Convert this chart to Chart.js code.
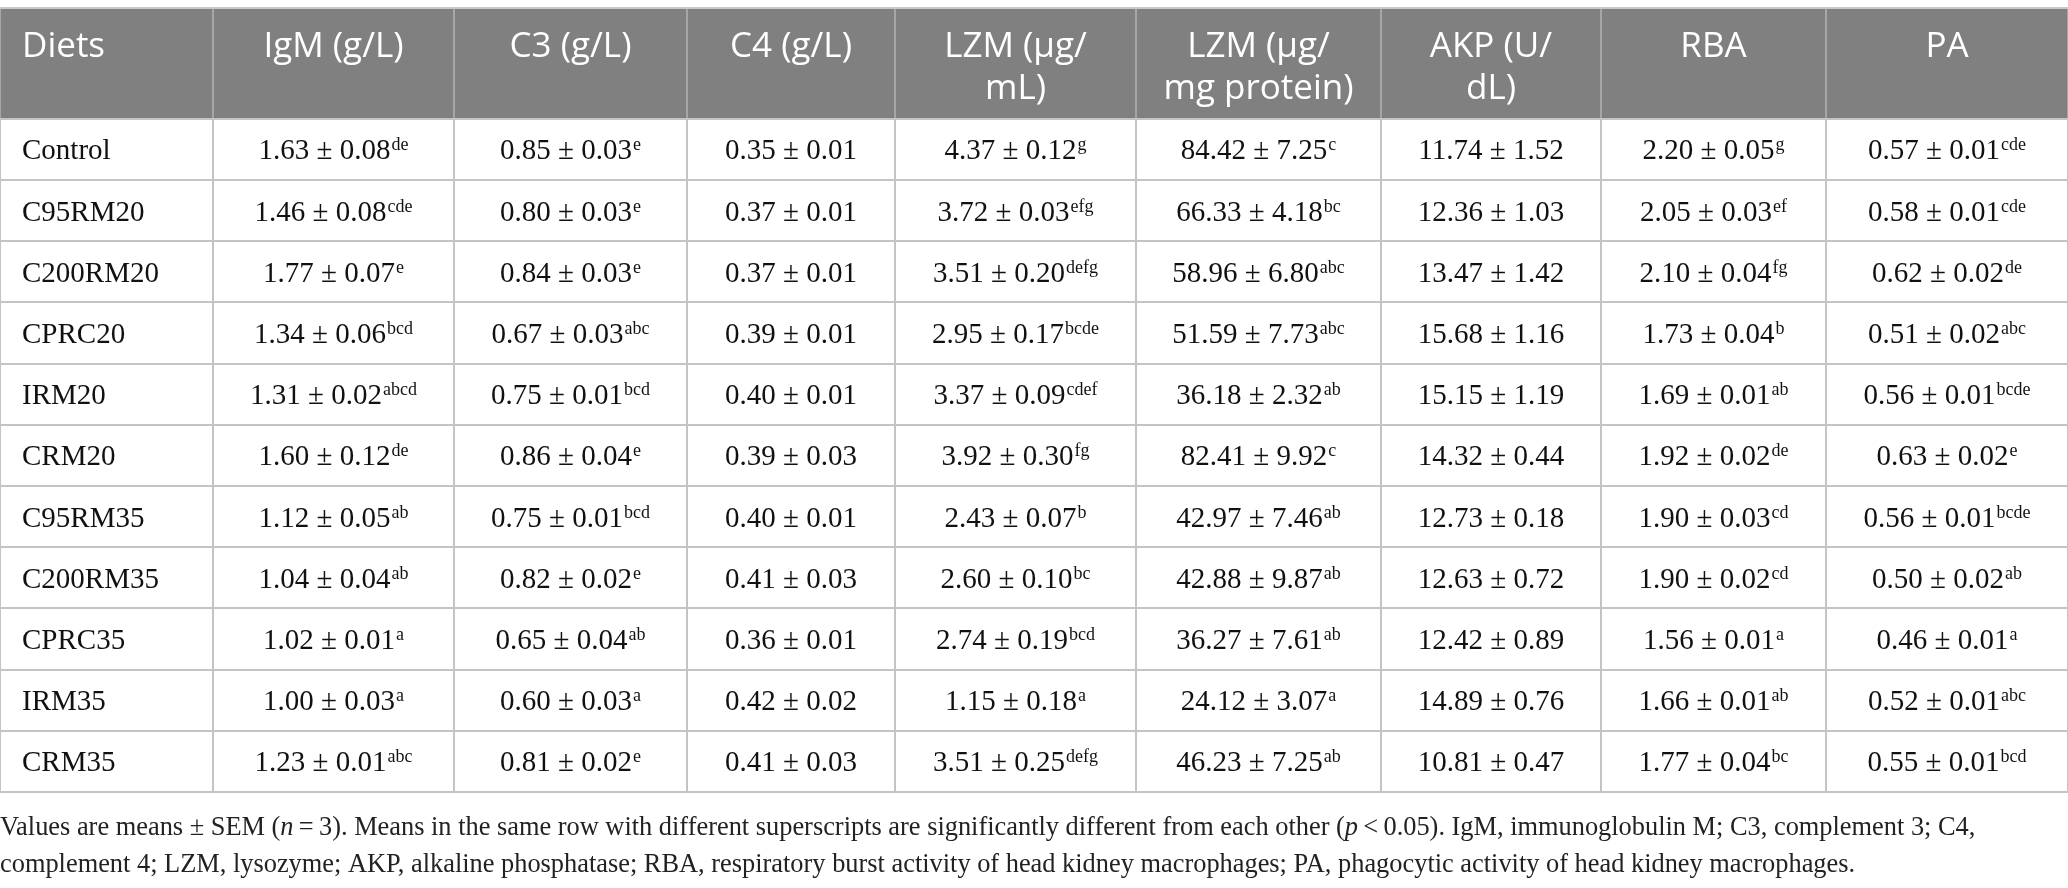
<!DOCTYPE html>
<html>
<head>
<meta charset="utf-8">
<title>Immune parameters by diet</title>
<script src="https://cdn.jsdelivr.net/npm/chart.js@4.4.1/dist/chart.umd.min.js"></script>
<style>
  html, body { margin: 0; padding: 0; background: #ffffff; }
  #wrap { width: 2068px; height: 888px; }
</style>
</head>
<body>
<div id="wrap"><canvas id="tbl" width="2068" height="888"></canvas></div>
<script>
const DIETS = ['Control', 'C95RM20', 'C200RM20', 'CPRC20', 'IRM20', 'CRM20',
  'C95RM35', 'C200RM35', 'CPRC35', 'IRM35', 'CRM35'];

// header labels, one entry per column (lines split where the original wraps)
const HEADERS = [['Diets'], ['IgM (g/L)'], ['C3 (g/L)'], ['C4 (g/L)'], ['LZM (\u03bcg/', 'mL)'],
  ['LZM (\u03bcg/', 'mg protein)'], ['AKP (U/', 'dL)'], ['RBA'], ['PA']];

const IGM_MEAN = [1.63, 1.46, 1.77, 1.34, 1.31, 1.60, 1.12, 1.04, 1.02, 1.00, 1.23];
const IGM_SEM  = [0.08, 0.08, 0.07, 0.06, 0.02, 0.12, 0.05, 0.04, 0.01, 0.03, 0.01];
const IGM_SUP  = ['de', 'cde', 'e', 'bcd', 'abcd', 'de', 'ab', 'ab', 'a', 'a', 'abc'];

const C3_MEAN = [0.85, 0.80, 0.84, 0.67, 0.75, 0.86, 0.75, 0.82, 0.65, 0.60, 0.81];
const C3_SEM  = [0.03, 0.03, 0.03, 0.03, 0.01, 0.04, 0.01, 0.02, 0.04, 0.03, 0.02];
const C3_SUP  = ['e', 'e', 'e', 'abc', 'bcd', 'e', 'bcd', 'e', 'ab', 'a', 'e'];

const C4_MEAN = [0.35, 0.37, 0.37, 0.39, 0.40, 0.39, 0.40, 0.41, 0.36, 0.42, 0.41];
const C4_SEM  = [0.01, 0.01, 0.01, 0.01, 0.01, 0.03, 0.01, 0.03, 0.01, 0.02, 0.03];
const C4_SUP  = ['', '', '', '', '', '', '', '', '', '', ''];

const LZM_ML_MEAN = [4.37, 3.72, 3.51, 2.95, 3.37, 3.92, 2.43, 2.60, 2.74, 1.15, 3.51];
const LZM_ML_SEM  = [0.12, 0.03, 0.20, 0.17, 0.09, 0.30, 0.07, 0.10, 0.19, 0.18, 0.25];
const LZM_ML_SUP  = ['g', 'efg', 'defg', 'bcde', 'cdef', 'fg', 'b', 'bc', 'bcd', 'a', 'defg'];

const LZM_MG_MEAN = [84.42, 66.33, 58.96, 51.59, 36.18, 82.41, 42.97, 42.88, 36.27, 24.12, 46.23];
const LZM_MG_SEM  = [7.25, 4.18, 6.80, 7.73, 2.32, 9.92, 7.46, 9.87, 7.61, 3.07, 7.25];
const LZM_MG_SUP  = ['c', 'bc', 'abc', 'abc', 'ab', 'c', 'ab', 'ab', 'ab', 'a', 'ab'];

const AKP_MEAN = [11.74, 12.36, 13.47, 15.68, 15.15, 14.32, 12.73, 12.63, 12.42, 14.89, 10.81];
const AKP_SEM  = [1.52, 1.03, 1.42, 1.16, 1.19, 0.44, 0.18, 0.72, 0.89, 0.76, 0.47];
const AKP_SUP  = ['', '', '', '', '', '', '', '', '', '', ''];

const RBA_MEAN = [2.20, 2.05, 2.10, 1.73, 1.69, 1.92, 1.90, 1.90, 1.56, 1.66, 1.77];
const RBA_SEM  = [0.05, 0.03, 0.04, 0.04, 0.01, 0.02, 0.03, 0.02, 0.01, 0.01, 0.04];
const RBA_SUP  = ['g', 'ef', 'fg', 'b', 'ab', 'de', 'cd', 'cd', 'a', 'ab', 'bc'];

const PA_MEAN = [0.57, 0.58, 0.62, 0.51, 0.56, 0.63, 0.56, 0.50, 0.46, 0.52, 0.55];
const PA_SEM  = [0.01, 0.01, 0.02, 0.02, 0.01, 0.02, 0.01, 0.02, 0.01, 0.01, 0.01];
const PA_SUP  = ['cde', 'cde', 'de', 'abc', 'bcde', 'e', 'bcde', 'ab', 'a', 'abc', 'bcd'];

// footnote runs (i = italic)
const FOOTNOTE = [
  [{ t: 'Values are means \u00b1 SEM (' }, { t: 'n', i: true }, { t: '\u2009=\u20093). Means in the same row with different superscripts are significantly different from each other (' },
   { t: 'p', i: true }, { t: '\u2009<\u20090.05). IgM, immunoglobulin M; C3, complement 3; C4,' }],
  [{ t: 'complement 4; LZM, lysozyme; AKP, alkaline phosphatase; RBA, respiratory burst activity of head kidney macrophages; PA, phagocytic activity of head kidney macrophages.' }]
];

// ---- layout (pixel units of the page) ----
const COL_EDGES = [0, 213, 454, 687, 895, 1136, 1381, 1601, 1826, 2068];
const TABLE_TOP = 8;
const HEAD_BOTTOM = 118.7;
const TABLE_BOTTOM = 792;
const HEAD_BG = '#808080';
const HEAD_RULE = '#a6a6a6';
const RULE = '#c4c4c4';
const BODY_FONT = '"Liberation Serif", "DejaVu Serif", serif';
const HEAD_FONT = '"Open Sans", "Noto Sans", sans-serif';

const COLUMNS = [
  [IGM_MEAN, IGM_SEM, IGM_SUP],
  [C3_MEAN, C3_SEM, C3_SUP],
  [C4_MEAN, C4_SEM, C4_SUP],
  [LZM_ML_MEAN, LZM_ML_SEM, LZM_ML_SUP],
  [LZM_MG_MEAN, LZM_MG_SEM, LZM_MG_SUP],
  [AKP_MEAN, AKP_SEM, AKP_SUP],
  [RBA_MEAN, RBA_SEM, RBA_SUP],
  [PA_MEAN, PA_SEM, PA_SUP]
];

const colMid = c => (COL_EDGES[c] + COL_EDGES[c + 1]) / 2;

// one invisible scatter series per column; the plugin writes the cell text at each point
const datasets = [{
  label: 'Diets',
  data: DIETS.map(d => ({ x: COL_EDGES[0], y: d, txt: d, sup: '' })),
  align: 'left'
}].concat(COLUMNS.map((col, c) => ({
  label: HEADERS[c + 1].join(' '),
  data: DIETS.map((d, i) => ({
    x: colMid(c + 1),
    y: d,
    txt: col[0][i].toFixed(2) + ' \u00b1 ' + col[1][i].toFixed(2),
    sup: col[2][i]
  })),
  align: 'center'
}))).map(ds => Object.assign(ds, { pointRadius: 0, pointHoverRadius: 0, showLine: false }));

// header band + footnote (drawn before the grid so rules sit on top)
const headerPlugin = {
  id: 'header',
  beforeDraw(chart) {
    const { ctx, scales: { x } } = chart;
    const left = x.getPixelForValue(COL_EDGES[0]);
    const right = x.getPixelForValue(COL_EDGES[COL_EDGES.length - 1]);
    ctx.save();
    ctx.fillStyle = '#ffffff';
    ctx.fillRect(0, 0, chart.width, chart.height);
    ctx.fillStyle = HEAD_BG;
    ctx.fillRect(left, TABLE_TOP, right - left, HEAD_BOTTOM - TABLE_TOP);

    // vertical rules in header
    ctx.strokeStyle = HEAD_RULE;
    ctx.lineWidth = 2;
    COL_EDGES.forEach(v => {
      const px = x.getPixelForValue(v);
      ctx.beginPath();
      ctx.moveTo(px, TABLE_TOP);
      ctx.lineTo(px, HEAD_BOTTOM);
      ctx.stroke();
    });
    ctx.strokeStyle = '#c8c8c8';
    ctx.beginPath();
    ctx.moveTo(left, TABLE_TOP);
    ctx.lineTo(right, TABLE_TOP);
    ctx.stroke();

    // header labels
    ctx.fillStyle = '#ffffff';
    ctx.font = '400 35px ' + HEAD_FONT;
    ctx.textBaseline = 'alphabetic';
    HEADERS.forEach((lines, c) => {
      lines.forEach((ln, k) => {
        const yb = 57 + k * 41.5;
        if (c === 0) {
          ctx.textAlign = 'left';
          ctx.fillText(ln, x.getPixelForValue(COL_EDGES[0]) + 22, yb);
        } else {
          ctx.textAlign = 'center';
          ctx.fillText(ln, x.getPixelForValue(colMid(c)), yb);
        }
      });
    });

    // footnote, sized so the first line spans the same width as the original
    ctx.fillStyle = '#222222';
    ctx.textAlign = 'left';
    const runFont = (r, size) => (r.i ? 'italic ' : '') + size + 'px ' + BODY_FONT;
    const lineWidth = (runs, size) => runs.reduce((w, r) => { ctx.font = runFont(r, size); return w + ctx.measureText(r.t).width; }, 0);
    const size = 25 * 1976 / lineWidth(FOOTNOTE[0], 25);
    FOOTNOTE.forEach((runs, k) => {
      let cx = 0;
      runs.forEach(r => {
        ctx.font = runFont(r, size);
        ctx.fillText(r.t, cx, 835 + k * 37);
        cx += ctx.measureText(r.t).width;
      });
    });
    ctx.restore();
  }
};

// cell text at each point of each series
const cellTextPlugin = {
  id: 'cellText',
  afterDatasetsDraw(chart) {
    const { ctx } = chart;
    ctx.save();
    ctx.fillStyle = '#111111';
    ctx.textBaseline = 'alphabetic';
    chart.data.datasets.forEach((ds, di) => {
      const meta = chart.getDatasetMeta(di);
      meta.data.forEach((pt, i) => {
        const raw = ds.data[i];
        const yb = pt.y + 10;
        ctx.font = '29px ' + BODY_FONT;
        const w1 = ctx.measureText(raw.txt).width;
        ctx.font = '18px ' + BODY_FONT;
        const w2 = raw.sup ? ctx.measureText(raw.sup).width + 1 : 0;
        let x0 = ds.align === 'left' ? pt.x + 22 : pt.x - (w1 + w2) / 2;
        ctx.textAlign = 'left';
        ctx.font = '29px ' + BODY_FONT;
        ctx.fillText(raw.txt, x0, yb);
        if (raw.sup) {
          ctx.font = '18px ' + BODY_FONT;
          ctx.fillText(raw.sup, x0 + w1 + 1, yb - 9);
        }
      });
    });
    ctx.restore();
  }
};

new Chart(document.getElementById('tbl'), {
  type: 'scatter',
  data: { datasets },
  options: {
    responsive: false,
    devicePixelRatio: 1,
    animation: false,
    events: [],
    layout: { padding: { top: HEAD_BOTTOM, bottom: 888 - TABLE_BOTTOM, left: 0, right: 0 } },
    plugins: { legend: { display: false }, tooltip: { enabled: false }, title: { display: false } },
    scales: {
      x: {
        type: 'linear',
        min: COL_EDGES[0],
        max: COL_EDGES[COL_EDGES.length - 1],
        afterBuildTicks: axis => { axis.ticks = COL_EDGES.map(v => ({ value: v })); },
        afterFit: axis => { axis.height = 0; },
        ticks: { display: false },
        border: { display: false },
        grid: { color: RULE, lineWidth: 2, drawTicks: false }
      },
      y: {
        type: 'category',
        labels: DIETS,
        offset: true,
        afterFit: axis => { axis.width = 0; },
        ticks: { display: false },
        border: { display: false },
        grid: { offset: true, color: RULE, lineWidth: 2, drawTicks: false }
      }
    }
  },
  plugins: [headerPlugin, cellTextPlugin]
});
</script>
</body>
</html>
